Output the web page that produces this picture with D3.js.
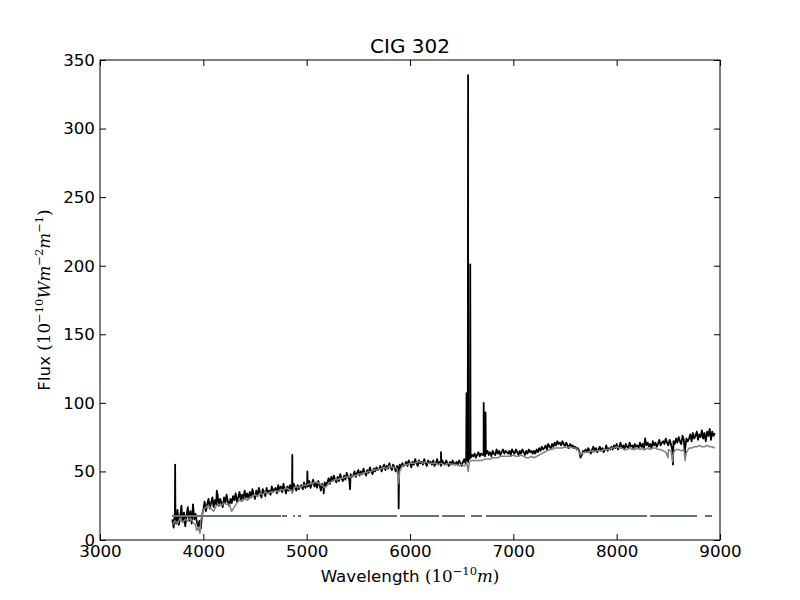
<!DOCTYPE html>
<html>
<head>
<meta charset="utf-8">
<script src="https://cdn.jsdelivr.net/npm/d3@7"></script>
<style>
  body { margin: 0; background: #fff; }
  text { font-family: "DejaVu Sans", sans-serif; }
  .math { font-family: "DejaVu Serif", serif; }
</style>
</head>
<body>
<svg id="chart" width="800" height="600"></svg>
<script>
// ---------- DATA ----------
const gridStart = 3700;   // first sampled wavelength (Angstrom)
const obsStep = 12.5;
const modelStep = 25;

// observed spectrum, 3700 ... 8950 every 12.5 A
const obsFlux = [
  15, 9, 19, 12, 22, 11, 16, 25, 13, 20, 10, 18, 24, 14, 21, 12, 26, 15, 19, 13,
  10, 14, 8, 18, 22, 28, 21, 26, 30, 23, 27, 31, 24, 29, 26, 33, 25, 30, 27, 24,
  31, 27, 33, 28, 25, 30, 27, 32, 29, 34, 28, 31, 35, 29, 33, 30, 36, 31, 34, 30,
  35, 31, 37, 33, 30, 36, 32, 38, 34, 31, 37, 35, 32, 38, 34, 36, 33, 39, 35, 37,
  38, 34, 40, 36, 39, 35, 41, 37, 34, 39, 36, 40, 37, 35, 41, 38, 36, 40, 37, 39,
  40, 37, 42, 38, 41, 39, 43, 38, 41, 44, 39, 42, 38, 43, 40, 36, 41, 38, 42, 40,
  42, 45, 41, 46, 43, 47, 44, 42, 46, 43, 48, 45, 43, 47, 44, 49, 46, 44, 48, 46,
  47, 50, 46, 49, 51, 47, 50, 48, 52, 49, 47, 51, 49, 53, 50, 48, 52, 50, 53, 51,
  52, 54, 50, 53, 55, 51, 54, 52, 56, 53, 51, 55, 53, 50, 54, 52, 55, 53, 56, 54,
  55, 57, 54, 58, 56, 53, 57, 55, 59, 56, 54, 58, 56, 57, 55, 59, 56, 54, 58, 56,
  57, 55, 58, 54, 56, 59, 55, 57, 54, 58, 56, 55, 58, 56, 54, 57, 55, 58, 56, 55,
  57, 55, 58, 56, 54, 57, 59, 56, 58, 57, 59, 60, 62, 61, 63, 60, 62, 64, 61, 63,
  62, 64, 61, 63, 65, 62, 64, 61, 65, 63, 62, 66, 63, 65, 62, 64, 66, 63, 65, 64,
  63, 65, 62, 66, 64, 63, 66, 64, 62, 65, 63, 66, 64, 62, 65, 63, 66, 64, 65, 63,
  65, 63, 66, 64, 67, 65, 68, 66, 67, 69, 66, 70, 68, 67, 70, 68, 71, 69, 72, 70,
  71, 69, 72, 70, 68, 71, 69, 67, 70, 68, 69, 67, 68, 66, 67, 65, 60, 62, 65, 64,
  66, 64, 67, 65, 63, 66, 68, 65, 67, 64, 66, 68, 65, 67, 64, 66, 69, 65, 67, 66,
  68, 66, 69, 67, 70, 66, 68, 71, 67, 69, 66, 70, 68, 67, 71, 68, 69, 67, 70, 68,
  69, 67, 71, 68, 70, 66, 74, 69, 71, 68, 70, 67, 72, 69, 71, 68, 70, 73, 69, 71,
  72, 70, 74, 71, 69, 73, 70, 66, 72, 70, 74, 71, 75, 72, 70, 76, 73, 66, 74, 72,
  74, 77, 72, 78, 74, 76, 79, 73, 77, 75, 80, 74, 78, 72, 79, 76, 81, 73, 79, 76,
  78
];

// model (stellar population fit), 3700 ... 8950 every 25 A
const modelFlux = [
  11, 14, 12, 16, 13, 15, 14, 16, 13, 11,
  9, 14, 22, 24, 25, 23, 21, 25, 26, 25,
  27, 26, 26, 21, 24, 27, 29, 28, 30, 29,
  31, 32, 33, 32, 34, 33, 35, 34, 35, 35,
  36, 35, 37, 36, 38, 37, 36, 38, 39, 38,
  39, 40, 40, 41, 41, 42, 42, 41, 40, 38,
  40, 42, 43, 44, 44, 45, 45, 46, 46, 46,
  47, 47, 48, 48, 49, 49, 50, 50, 51, 51,
  52, 52, 53, 52, 54, 53, 53, 52, 50, 54,
  55, 55, 56, 56, 56, 57, 57, 56, 57, 56,
  56, 56, 56, 55, 56, 55, 55, 56, 55, 55,
  55, 54, 55, 54, 56, 57, 58, 58, 58, 58,
  58, 59, 59, 59, 60, 60, 60, 61, 61, 61,
  61, 61, 62, 61, 61, 62, 61, 60, 60, 61,
  60, 61, 62, 63, 64, 65, 66, 66, 67, 67,
  67, 67, 68, 67, 68, 67, 67, 66, 62, 64,
  64, 64, 65, 64, 65, 65, 65, 66, 66, 66,
  67, 67, 68, 67, 67, 66, 66, 67, 66, 66,
  67, 66, 67, 66, 67, 66, 67, 67, 66, 66,
  65, 64, 66, 65, 64, 66, 66, 65, 66, 64,
  67, 67, 68, 68, 69, 68, 68, 69, 68, 68,
  67
];

// narrow features of the observed spectrum: [wavelength, flux]
const obsLines = [
  [3724, 20], [3727, 55], [3730, 16],
  [4130, 36],
  [4858, 38], [4861, 62], [4864, 37],
  [5004, 40], [5007, 50], [5010, 39],
  [5165, 34], [5420, 37],
  [5885, 52], [5890, 23], [5895, 50],
  [6297, 56], [6300, 64], [6303, 55],
  [6544, 60], [6547, 107],
  [6559, 60], [6562, 339], [6566, 62],
  [6580, 63], [6583, 201], [6586, 64],
  [6710, 62], [6713, 100], [6717, 63],
  [6728, 62], [6731, 93], [6734, 63],
  [8545, 55], [8662, 62]
];

// narrow absorption features of the model: [wavelength, flux]
const modelLines = [
  [3934, 7], [3968, 5],
  [4861, 34],
  [5890, 41],
  [6563, 50],
  [8498, 60], [8542, 57], [8662, 58]
];

// flat masked line near the bottom, drawn only over these ranges
const maskLevel = 17.5;
const maskSegments = [
  [3697, 4752], [4761, 4810], [4868, 4887], [4916, 4945],
  [5023, 5874], [5903, 6281], [6310, 6532], [6590, 6697],
  [6735, 8294], [8323, 8777], [8855, 8923]
];

const xTicks = [3000, 4000, 5000, 6000, 7000, 8000, 9000];
const yTicks = [0, 50, 100, 150, 200, 250, 300, 350];

// ---------- SETUP ----------
const svg = d3.select("#chart");
const margin = { left: 100, right: 80, top: 60, bottom: 60 };
const width = 800 - margin.left - margin.right;
const height = 600 - margin.top - margin.bottom;

const x = d3.scaleLinear().domain([3000, 9000]).range([0, width]);
const y = d3.scaleLinear().domain([0, 350]).range([height, 0]);

const g = svg.append("g")
  .attr("transform", `translate(${margin.left},${margin.top})`);

const line = d3.line()
  .x(d => x(d[0]))
  .y(d => y(d[1]));

function series(values, step, extra) {
  return values
    .map((v, i) => [gridStart + i * step, v])
    .concat(extra)
    .sort((a, b) => a[0] - b[0]);
}

// ---------- LINES ----------
g.append("path")
  .datum(series(obsFlux, obsStep, obsLines))
  .attr("fill", "none")
  .attr("stroke", "#000")
  .attr("stroke-width", 1.8)
  .attr("stroke-linejoin", "round")
  .attr("d", line);

g.append("path")
  .datum(series(modelFlux, modelStep, modelLines))
  .attr("fill", "none")
  .attr("stroke", "#808080")
  .attr("stroke-width", 1.5)
  .attr("stroke-linejoin", "round")
  .attr("d", line);

g.append("g")
  .selectAll("path")
  .data(maskSegments)
  .enter()
  .append("path")
  .attr("fill", "none")
  .attr("stroke", "#637378")
  .attr("stroke-width", 2)
  .attr("d", d => line([[d[0], maskLevel], [d[1], maskLevel]]));

// ---------- AXES ----------
function styleAxis(sel) {
  sel.select(".domain").remove();
  sel.selectAll(".tick line").attr("stroke", "#000");
  sel.selectAll(".tick text")
    .attr("fill", "#000")
    .style("font-size", "16.7px")
    .style("font-family", "'DejaVu Sans', sans-serif");
}

g.append("g")
  .attr("transform", `translate(0,${height})`)
  .call(d3.axisBottom(x).tickValues(xTicks).tickFormat(d3.format("d"))
    .tickSizeInner(-6).tickSizeOuter(0).tickPadding(5))
  .call(styleAxis);

g.append("g")
  .call(d3.axisTop(x).tickValues(xTicks).tickFormat("")
    .tickSizeInner(-6).tickSizeOuter(0))
  .call(styleAxis);

g.append("g")
  .call(d3.axisLeft(y).tickValues(yTicks).tickFormat(d3.format("d"))
    .tickSizeInner(-6).tickSizeOuter(0).tickPadding(5))
  .call(styleAxis);

g.append("g")
  .attr("transform", `translate(${width},0)`)
  .call(d3.axisRight(y).tickValues(yTicks).tickFormat("")
    .tickSizeInner(-6).tickSizeOuter(0))
  .call(styleAxis);

// frame
g.append("rect")
  .attr("width", width)
  .attr("height", height)
  .attr("fill", "none")
  .attr("stroke", "#000")
  .attr("stroke-width", 1);

// ---------- TEXT ----------
svg.append("text")
  .attr("x", margin.left + width / 2)
  .attr("y", 53)
  .attr("text-anchor", "middle")
  .style("font-size", "20px")
  .text("CIG 302");

// math-style label parts: [text, italic, superscript]
function mathLabel(sel, prefix, parts) {
  sel.append("tspan").text(prefix);
  let raised = false;
  parts.forEach(([t, it, sup]) => {
    const ts = sel.append("tspan")
      .attr("class", "math")
      .style("font-style", it ? "italic" : "normal")
      .style("font-size", sup ? "11.5px" : "16.7px")
      .text(t);
    if (sup && !raised) { ts.attr("dy", "-7"); raised = true; }
    if (!sup && raised) { ts.attr("dy", "7"); raised = false; }
  });
}

const xLabel = svg.append("text")
  .attr("x", margin.left + width / 2)
  .attr("y", 582)
  .attr("text-anchor", "middle")
  .style("font-size", "16.7px");
mathLabel(xLabel, "Wavelength ", [
  ["(10", false, false], ["\u221210", false, true], ["m", true, false], [")", false, false]
]);

const yLabel = svg.append("text")
  .attr("transform", `translate(50,${margin.top + height / 2}) rotate(-90)`)
  .attr("text-anchor", "middle")
  .style("font-size", "16.7px");
mathLabel(yLabel, "Flux ", [
  ["(10", false, false], ["\u221210", false, true],
  ["Wm", true, false], ["\u22122", false, true],
  ["m", true, false], ["\u22121", false, true],
  [")", false, false]
]);
</script>
</body>
</html>
